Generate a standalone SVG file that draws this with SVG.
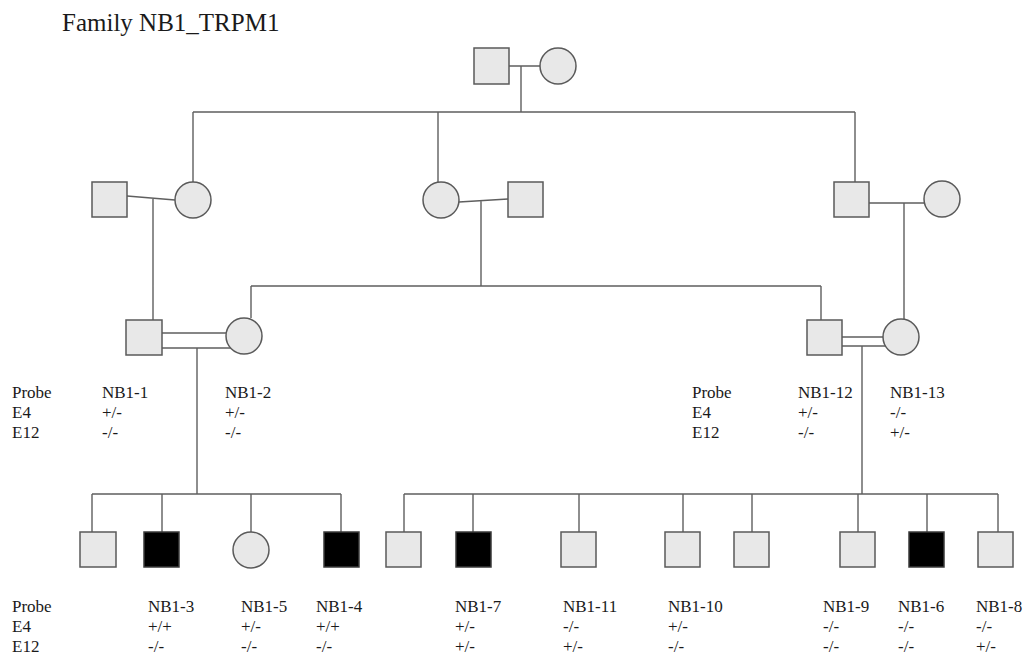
<svg xmlns="http://www.w3.org/2000/svg" width="1026" height="656" viewBox="0 0 1026 656">
<style>
.sq{fill:#e8e8e8;stroke:#5a5a5a;stroke-width:1.5}
.ci{fill:#e8e8e8;stroke:#5a5a5a;stroke-width:1.5}
.aff{fill:#000;stroke:#3a3a3a;stroke-width:1.5}
.ln{fill:none;stroke:#5f5f5f;stroke-width:1.4}
.t{font-family:"Liberation Serif","Times New Roman",serif;font-size:17px;fill:#1a1a1a}
.title{font-family:"Liberation Serif","Times New Roman",serif;font-size:25px;fill:#1a1a1a}
</style>
<rect width="1026" height="656" fill="#fff"/>
<text class="title" x="62" y="31">Family NB1_TRPM1</text>

<g id="connectors">
<path class="ln" d="M509,66 H540 M521,66 V112 M193,112 H855 M193,112 V182 M438,112 V182 M855,112 V182"/>
<path class="ln" d="M127,196 L175,200 M153,198 V320 M459,202 L508,199 M481,200 V286 M251,286 H821 M251,286 V318 M821,286 V320 M869,203 H924 M904,203 V319"/>
<path class="ln" d="M162,333 H226 M162,348 H231 M197,348 V494 M842,337 H883 M842,346 H885 M862,346 V494"/>
<path class="ln" d="M92,494 H341 M92,494 V532 M162,494 V532 M251,494 V532 M341,494 V532"/>
<path class="ln" d="M404,494 H998 M404,494 V532 M473,494 V532 M579,494 V532 M683,494 V532 M752,494 V532 M858,494 V532 M927,494 V532 M998,494 V532"/>
</g>

<g id="I-1"><rect class="sq" x="474" y="48" width="35" height="36"/></g>
<g id="I-2"><circle class="ci" cx="558" cy="66" r="18"/></g>

<g id="II-1"><rect class="sq" x="92" y="182" width="35" height="35"/></g>
<g id="II-2"><circle class="ci" cx="193" cy="200" r="18"/></g>
<g id="II-3"><circle class="ci" cx="441" cy="200" r="18"/></g>
<g id="II-4"><rect class="sq" x="508" y="182" width="35" height="35"/></g>
<g id="II-5"><rect class="sq" x="834" y="182" width="35" height="35"/></g>
<g id="II-6"><circle class="ci" cx="942" cy="199" r="18"/></g>

<g id="labels-gen3-left">
<text class="t" x="12" y="398">Probe</text>
<text class="t" x="12" y="418">E4</text>
<text class="t" x="12" y="438">E12</text>
</g>
<g id="NB1-1"><rect class="sq" x="126" y="320" width="36" height="35"/>
<text class="t" x="102" y="398">NB1-1</text><text class="t" x="102" y="418">+/-</text><text class="t" x="102" y="438">-/-</text></g>
<g id="NB1-2"><circle class="ci" cx="244" cy="336" r="18"/>
<text class="t" x="225" y="398">NB1-2</text><text class="t" x="225" y="418">+/-</text><text class="t" x="225" y="438">-/-</text></g>

<g id="labels-gen3-right">
<text class="t" x="692" y="398">Probe</text>
<text class="t" x="692" y="418">E4</text>
<text class="t" x="692" y="438">E12</text>
</g>
<g id="NB1-12"><rect class="sq" x="807" y="320" width="35" height="35"/>
<text class="t" x="798" y="398">NB1-12</text><text class="t" x="798" y="418">+/-</text><text class="t" x="798" y="438">-/-</text></g>
<g id="NB1-13"><circle class="ci" cx="901" cy="337" r="18"/>
<text class="t" x="890" y="398">NB1-13</text><text class="t" x="890" y="418">-/-</text><text class="t" x="890" y="438">+/-</text></g>

<g id="labels-gen4">
<text class="t" x="12" y="612">Probe</text>
<text class="t" x="12" y="632">E4</text>
<text class="t" x="12" y="652">E12</text>
</g>
<g id="IV-1"><rect class="sq" x="80" y="532" width="36" height="35"/></g>
<g id="NB1-3"><rect class="aff" x="144" y="532" width="35" height="35"/>
<text class="t" x="148" y="612">NB1-3</text><text class="t" x="148" y="632">+/+</text><text class="t" x="148" y="652">-/-</text></g>
<g id="NB1-5"><circle class="ci" cx="251" cy="550" r="18"/>
<text class="t" x="241" y="612">NB1-5</text><text class="t" x="241" y="632">+/-</text><text class="t" x="241" y="652">-/-</text></g>
<g id="NB1-4"><rect class="aff" x="324" y="532" width="35" height="35"/>
<text class="t" x="316" y="612">NB1-4</text><text class="t" x="316" y="632">+/+</text><text class="t" x="316" y="652">-/-</text></g>

<g id="IV-5"><rect class="sq" x="386" y="532" width="35" height="35"/></g>
<g id="NB1-7"><rect class="aff" x="456" y="532" width="35" height="35"/>
<text class="t" x="455" y="612">NB1-7</text><text class="t" x="455" y="632">+/-</text><text class="t" x="455" y="652">+/-</text></g>
<g id="NB1-11"><rect class="sq" x="561" y="532" width="35" height="35"/>
<text class="t" x="563" y="612">NB1-11</text><text class="t" x="563" y="632">-/-</text><text class="t" x="563" y="652">+/-</text></g>
<g id="NB1-10"><rect class="sq" x="665" y="532" width="35" height="35"/>
<text class="t" x="668" y="612">NB1-10</text><text class="t" x="668" y="632">+/-</text><text class="t" x="668" y="652">-/-</text></g>
<g id="IV-9"><rect class="sq" x="734" y="532" width="35" height="35"/></g>
<g id="NB1-9"><rect class="sq" x="840" y="532" width="35" height="35"/>
<text class="t" x="823" y="612">NB1-9</text><text class="t" x="823" y="632">-/-</text><text class="t" x="823" y="652">-/-</text></g>
<g id="NB1-6"><rect class="aff" x="909" y="532" width="35" height="35"/>
<text class="t" x="898" y="612">NB1-6</text><text class="t" x="898" y="632">-/-</text><text class="t" x="898" y="652">-/-</text></g>
<g id="NB1-8"><rect class="sq" x="978" y="532" width="35" height="35"/>
<text class="t" x="976" y="612">NB1-8</text><text class="t" x="976" y="632">-/-</text><text class="t" x="976" y="652">+/-</text></g>
</svg>
